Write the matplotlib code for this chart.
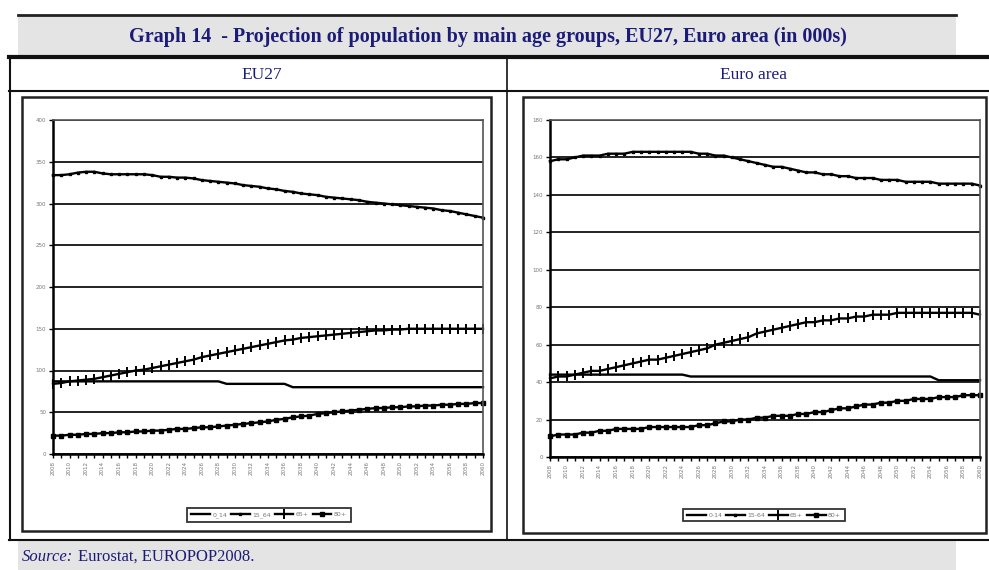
import matplotlib.pyplot as plt
from matplotlib.patches import Rectangle

years = list(range(2008, 2061))

# EU27 (left panel)
eu_0_14 = [87] * 21 + [84] * 8 + [80] * 24
eu_15_64 = [334, 334, 335, 337, 338, 338, 336, 335, 335, 335, 335, 335, 334, 332, 332, 331,
            331, 330, 328, 327, 326, 325, 324, 322, 321, 320, 318, 317, 315, 314, 312, 311,
            310, 308, 307, 306, 305, 304, 302, 301, 300, 299, 298, 297, 296, 295, 294, 292,
            291, 289, 287, 285, 283]
eu_65 = [84, 85, 87, 88, 89, 90, 92, 94, 96, 98, 100, 101, 103, 105, 107, 109, 111, 113, 116,
         118, 120, 122, 124, 126, 128, 130, 132, 134, 136, 137, 139, 140, 141, 142, 143, 144,
         145, 146, 147, 148, 148, 149, 149, 150, 150, 150, 150, 150, 150, 150, 150, 150, 150]
eu_80 = [22, 22, 23, 23, 24, 24, 25, 25, 26, 26, 27, 27, 28, 28, 29, 30, 30, 31, 32, 32, 33,
         34, 35, 36, 37, 38, 39, 41, 42, 44, 45, 46, 48, 49, 50, 51, 52, 53, 54, 55, 55, 56,
         56, 57, 57, 58, 58, 59, 59, 60, 60, 61, 61]

# Euro area (right panel)
ea_0_14 = [44] * 17 + [43] * 30 + [41] * 6
ea_15_64 = [158, 159, 159, 160, 161, 161, 161, 162, 162, 162, 163, 163, 163, 163, 163, 163,
            163, 163, 162, 162, 161, 161, 160, 159, 158, 157, 156, 155, 155, 154, 153, 152,
            152, 151, 151, 150, 150, 149, 149, 149, 148, 148, 148, 147, 147, 147, 147, 146,
            146, 146, 146, 146, 145]
ea_65 = [42, 43, 43, 44, 45, 46, 46, 47, 48, 49, 50, 51, 52, 52, 53, 54, 55, 56, 57, 58, 60,
         61, 62, 63, 64, 66, 67, 68, 69, 70, 71, 72, 72, 73, 73, 74, 74, 75, 75, 76, 76, 76,
         77, 77, 77, 77, 77, 77, 77, 77, 77, 77, 76]
ea_80 = [11, 12, 12, 12, 13, 13, 14, 14, 15, 15, 15, 15, 16, 16, 16, 16, 16, 16, 17, 17, 18,
         19, 19, 20, 20, 21, 21, 22, 22, 22, 23, 23, 24, 24, 25, 26, 26, 27, 28, 28, 29, 29,
         30, 30, 31, 31, 31, 32, 32, 32, 33, 33, 33]

W, H = 989, 570
NAVY = '#1c1c78'
fig = plt.figure(figsize=(W / 100, H / 100), dpi=100)

# background layer in pixel coordinates
bg = fig.add_axes([0, 0, 1, 1], zorder=0)
bg.set_xlim(0, W)
bg.set_ylim(H, 0)
bg.axis('off')

bg.add_patch(Rectangle((18, 15), 938, 41, facecolor='#e4e4e4', edgecolor='none'))
bg.plot([18, 956], [15, 15], color='#222', lw=2)
bg.plot([9, W], [57, 57], color='#111', lw=3)
bg.plot([9, W], [91, 91], color='#111', lw=1.5)
bg.plot([9, W], [540, 540], color='#111', lw=1.5)
bg.plot([9.5, 9.5], [56, 540], color='#111', lw=1.5)
bg.plot([507, 507], [56, 540], color='#111', lw=1.2)
bg.add_patch(Rectangle((18, 541), 938, 29, facecolor='#e4e4e4', edgecolor='none'))
# chart boxes
bg.add_patch(Rectangle((22, 97), 469, 434, facecolor='white', edgecolor='#222', lw=1.8))
bg.add_patch(Rectangle((523, 97), 463, 436, facecolor='white', edgecolor='#222', lw=1.8))

bg.text(488, 37, 'Graph 14  - Projection of population by main age groups, EU27, Euro area (in 000s)',
        ha='center', va='center', fontsize=14.5, fontweight='bold', color=NAVY,
        family='Liberation Serif')
bg.text(262, 75, 'EU27', ha='center', va='center', fontsize=12.5, color=NAVY,
        family='Liberation Serif')
bg.text(754, 75, 'Euro area', ha='center', va='center', fontsize=12.5, color=NAVY,
        family='Liberation Serif')
bg.text(22, 557, 'Source:', ha='left', va='center', fontsize=12, color=NAVY,
        family='Liberation Serif', style='italic')
bg.text(78, 557, 'Eurostat, EUROPOP2008.', ha='left', va='center', fontsize=12, color=NAVY,
        family='Liberation Serif')


def panel(rect_px, series, labels, ymax, ystep, legend_center):
    x0, y0, x1, y1 = rect_px
    ax = fig.add_axes([x0 / W, 1 - y1 / H, (x1 - x0) / W, (y1 - y0) / H], zorder=2)
    ax.set_facecolor('none')
    styles = [dict(marker=None),
              dict(marker='s', markersize=2),
              dict(marker='|', markersize=6.5, markeredgewidth=1.4),
              dict(marker='s', markersize=3.2)]
    for vals, lab, st in zip(series, labels, styles):
        ax.plot(years, vals, color='black', lw=1.7, label=lab, clip_on=False, **st)
    ax.set_xlim(2008, 2060)
    ax.set_ylim(0, ymax)
    yt = list(range(0, ymax + 1, ystep))
    ax.set_yticks(yt)
    ax.set_yticklabels([str(v) for v in yt])
    ax.set_xticks(years)
    ax.set_xticklabels([str(y) if y % 2 == 0 else '' for y in years], rotation=90)
    ax.tick_params(axis='both', labelsize=4, labelcolor='#777', length=3, width=1,
                   color='black', pad=2)
    ax.grid(axis='y', color='#111', lw=1.3)
    ax.set_axisbelow(True)
    for side in ['left', 'bottom']:
        ax.spines[side].set_linewidth(1.8)
        ax.spines[side].set_color('black')
    for side in ['top', 'right']:
        ax.spines[side].set_linewidth(1.2)
        ax.spines[side].set_color('#555')
    leg = ax.legend(loc='center', bbox_to_anchor=(legend_center[0] / W, 1 - legend_center[1] / H),
                    bbox_transform=fig.transFigure, ncol=4, fontsize=4.5, frameon=True,
                    fancybox=False, handlelength=3, columnspacing=0.6, handletextpad=0.4,
                    borderpad=0.6, labelcolor='#777')
    leg.get_frame().set_edgecolor('black')
    leg.get_frame().set_linewidth(1.3)
    return ax


panel((53, 120, 483, 454), [eu_0_14, eu_15_64, eu_65, eu_80],
      ['0_14', '15_64', '65+', '80+'], 400, 50, (269, 515))
panel((550, 120, 980, 457), [ea_0_14, ea_15_64, ea_65, ea_80],
      ['0-14', '15-64', '65+', '80+'], 180, 20, (764, 515))

fig.savefig('out.png', dpi=100)
